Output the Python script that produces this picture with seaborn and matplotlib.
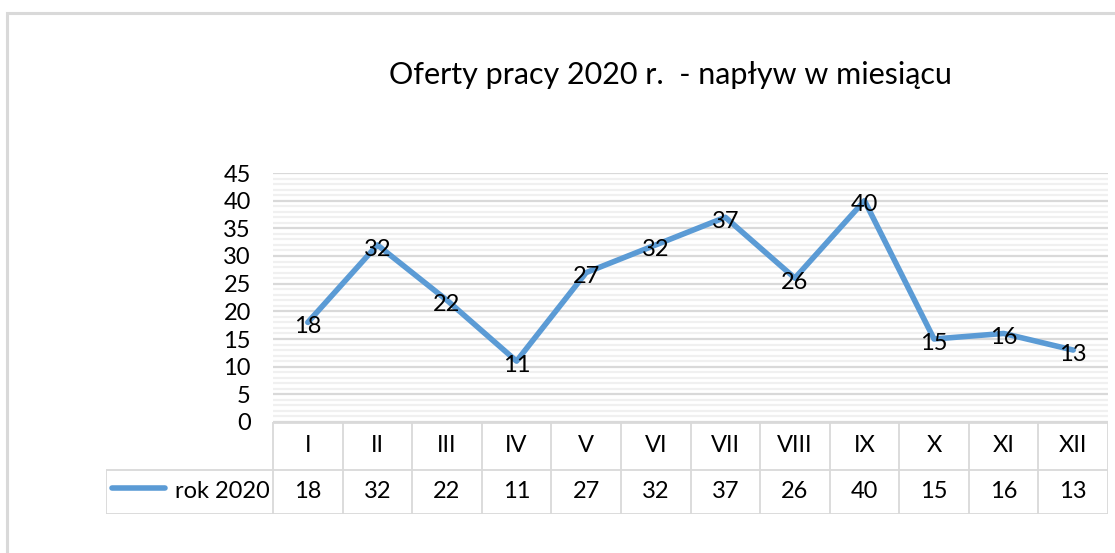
import matplotlib
matplotlib.use("Agg")
import matplotlib.pyplot as plt
import matplotlib.patches as patches
import seaborn as sns
import pandas as pd
import numpy as np

# data
months = ["I", "II", "III", "IV", "V", "VI", "VII", "VIII", "IX", "X", "XI", "XII"]
values = [18, 32, 22, 11, 27, 32, 37, 26, 40, 15, 16, 13]
series_name = "rok 2020"
title = "Oferty pracy 2020 r.  - napływ w miesiącu"

sns.set_theme(style="white")
plt.rcParams['font.family'] = ['Lato', 'DejaVu Sans']

line_color = "#5B9BD5"
grid_major = "#d9d9d9"
grid_minor = "#f0f0f0"
W, H = 1115, 553
fs = 17

df = pd.DataFrame({"month": np.arange(len(months)), "value": values})

fig = plt.figure(figsize=(W / 100, H / 100), dpi=100)

def fx(px):
    return px / W

def fy(py):
    return 1 - py / H

# outer chart frame
fig.patches.append(patches.Rectangle((fx(7), fy(580)), fx(1140), fy(13) - fy(580),
                                     transform=fig.transFigure, fill=False,
                                     edgecolor="#d9d9d9", linewidth=2.2))

# plot area
left, right, top, bottom = 273, 1108, 173, 422
ax = fig.add_axes([fx(left), fy(bottom), fx(right - left), fy(top) - fy(bottom)])
ax.set_xlim(-0.5, len(months) - 0.5)
ax.set_ylim(0, 45)

for v in range(0, 46):
    if v % 5 == 0:
        ax.axhline(v, color=grid_major, lw=1.6, zorder=1)
    else:
        ax.axhline(v, color=grid_minor, lw=1.6, zorder=0)

sns.lineplot(data=df, x="month", y="value", ax=ax, color=line_color, lw=4,
             zorder=3, legend=False)
for x, v in zip(df["month"], df["value"]):
    ax.annotate(str(v), (x, v), xytext=(0, -3), textcoords="offset points",
                ha="center", va="center", fontsize=fs, color="black", zorder=4)

ax.set_yticks(range(0, 46, 5))
ax.set_xticks([])
ax.tick_params(axis="y", length=0, pad=16, labelsize=fs, labelcolor="black")
ax.set_xlabel("")
ax.set_ylabel("")
for s in ax.spines.values():
    s.set_visible(False)

# data table below the plot
n = len(months)
cell = (right - left) / n
leg_w = (left - 106) / cell
row_mid = 470
tbottom = 514
tax = fig.add_axes([fx(106), fy(tbottom), fx(right - 106), fy(bottom) - fy(tbottom)])
tax.set_xlim(-0.5 - leg_w, n - 0.5)
tax.set_ylim(0, 2)
tax.axis("off")
tcol = "#d9d9d9"
ymid = (tbottom - row_mid) / (tbottom - bottom) * 2
tax.hlines([2], -0.5, n - 0.5, color=tcol, lw=2)
tax.hlines([ymid, 0], -0.5 - leg_w, n - 0.5, color=tcol, lw=1.3)
tax.vlines(np.arange(n + 1) - 0.5, 0, 2, color=tcol, lw=1.3)
tax.vlines([-0.5 - leg_w], 0, ymid, color=tcol, lw=1.3)
for i, (m, v) in enumerate(zip(months, values)):
    tax.text(i, (ymid + 2) / 2, m, ha="center", va="center", fontsize=fs, color="black")
    tax.text(i, ymid / 2, str(v), ha="center", va="center", fontsize=fs, color="black")
lx0 = -0.5 - leg_w + 0.09
tax.plot([lx0, lx0 + 0.76], [ymid / 2 + 0.08] * 2, color=line_color, lw=4,
         solid_capstyle="round")
tax.text(-0.55, ymid / 2, series_name, ha="right", va="center", fontsize=fs, color="black")

fig.text(fx(670), fy(75), title, ha="center", va="center", fontsize=22, color="black")

fig.savefig("out.png", dpi=100)
